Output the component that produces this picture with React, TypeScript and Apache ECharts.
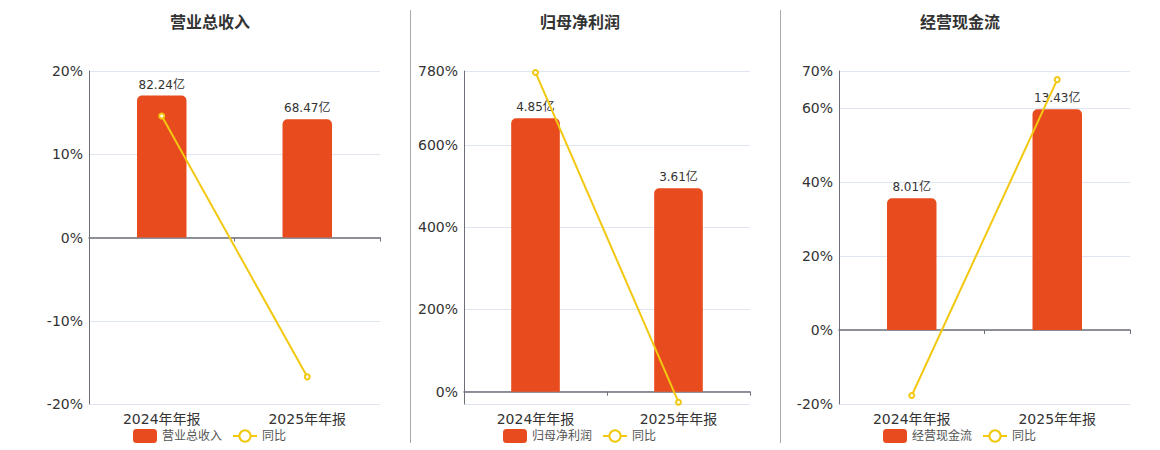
import React, { useEffect, useRef } from "react";
import * as echarts from "echarts";

const categories = ["2024年年报", "2025年年报"];
const seriesNames = ["营业总收入", "归母净利润", "经营现金流"];
const yoyName = "同比";
const unit = "亿";

const revenue = [82.24, 68.47];
const revenueYoy = [14.6, -16.74];
const netProfit = [4.85, 3.61];
const netProfitYoy = [776.5, -25.57];
const cashFlow = [8.01, 13.43];
const cashFlowYoy = [-17.7, 67.67];

const revenuePctTicks = [-20, -10, 0, 10, 20];
const netProfitPctTicks = [0, 200, 400, 600, 780];
const cashFlowPctTicks = [-20, 0, 20, 40, 60, 70];
const revenuePctRange = [-20, 20];
const netProfitPctRange = [-30, 780];
const cashFlowPctRange = [-20, 70];

const barValues = [revenue, netProfit, cashFlow];
const yoyValues = [revenueYoy, netProfitYoy, cashFlowYoy];
const pctTicks = [revenuePctTicks, netProfitPctTicks, cashFlowPctTicks];
const pctRanges = [revenuePctRange, netProfitPctRange, cashFlowPctRange];

// layout (not data)
const panelCenters = [210, 580, 960];
const gridLefts = [89, 464, 839];
const gridWidths = [291, 286, 291];
const legendLefts = [128, 498, 878];
const separators = [410.5, 780.5];
const BAR_HEADROOM = 1.173;

const BAR_COLOR = "#E84B1D";
const LINE_COLOR = "#F2C811";
const AXIS_COLOR = "#6E7079";
const FONT = "'DejaVu Sans', 'Noto Sans CJK SC', sans-serif";

function buildOption() {
  const grid: any[] = [];
  const xAxis: any[] = [];
  const yAxis: any[] = [];
  const series: any[] = [];
  const legend: any[] = [];
  const graphic: any[] = [];

  for (let i = 0; i < 3; i++) {
    const [pMin, pMax] = pctRanges[i];
    const barMax = Math.max(...barValues[i]) * BAR_HEADROOM;
    const barMin = (barMax * pMin) / pMax;
    const gridTicks = Array.from(new Set([pMin, ...pctTicks[i], pMax]));

    grid.push({ left: gridLefts[i], width: gridWidths[i], top: 71, height: 333, containLabel: false });

    xAxis.push({
      type: "category",
      gridIndex: i,
      data: categories,
      position: "bottom",
      axisLine: { show: true, onZero: true, onZeroAxisIndex: 2 * i, lineStyle: { color: AXIS_COLOR, width: 1.5 } },
      axisTick: { show: true, length: 4, lineStyle: { color: AXIS_COLOR } },
      axisLabel: { show: false },
      splitLine: { show: false },
    });
    xAxis.push({
      type: "category",
      gridIndex: i,
      data: categories,
      position: "bottom",
      axisLine: { show: false, onZero: false },
      axisTick: { show: false },
      axisLabel: { show: true, fontSize: 14, color: "#333", margin: 8, fontFamily: FONT },
      splitLine: { show: false },
    });

    yAxis.push({
      type: "value",
      gridIndex: i,
      position: "left",
      min: pMin,
      max: pMax,
      axisLine: { show: true, lineStyle: { color: AXIS_COLOR } },
      axisTick: { show: false, customValues: gridTicks },
      axisLabel: {
        customValues: pctTicks[i],
        formatter: "{value}%",
        fontSize: 14,
        color: "#333",
        margin: 6,
        fontFamily: FONT,
      },
      splitLine: { show: true, lineStyle: { color: "#E0E6F1" } },
    });
    yAxis.push({
      type: "value",
      gridIndex: i,
      show: false,
      min: barMin,
      max: barMax,
      splitLine: { show: false },
    });

    series.push({
      type: "bar",
      name: seriesNames[i],
      xAxisIndex: 2 * i,
      yAxisIndex: 2 * i + 1,
      data: barValues[i],
      barWidth: "34%",
      itemStyle: { color: BAR_COLOR, borderRadius: [5, 5, 0, 0] },
      label: {
        show: true,
        position: "top",
        formatter: (p: any) => `${p.value}${unit}`,
        fontSize: 12,
        color: "#333",
        fontFamily: FONT,
      },
      z: 2,
    });
    series.push({
      type: "line",
      name: yoyName,
      xAxisIndex: 2 * i,
      yAxisIndex: 2 * i,
      data: yoyValues[i],
      symbol: "emptyCircle",
      symbolSize: 5,
      itemStyle: { color: LINE_COLOR, borderWidth: 1.5 },
      lineStyle: { color: LINE_COLOR, width: 2 },
      z: 3,
    });

    legend.push({
      left: legendLefts[i],
      top: 424,
      itemWidth: 24,
      itemHeight: 14,
      itemGap: 10,
      selectedMode: false,
      data: [seriesNames[i], yoyName],
      textStyle: { fontSize: 12, color: "#555", fontFamily: FONT },
    });

    graphic.push({
      type: "text",
      x: panelCenters[i],
      y: 22,
      style: {
        text: seriesNames[i],
        textAlign: "center",
        textVerticalAlign: "middle",
        fontSize: 16,
        fontWeight: "bold",
        fontFamily: FONT,
        fill: "#333",
      },
    });
  }

  separators.forEach((x) => {
    graphic.push({
      type: "line",
      shape: { x1: x, y1: 10, x2: x, y2: 443 },
      style: { stroke: "#AAAAA4", lineWidth: 1 },
    });
  });

  return {
    animation: false,
    backgroundColor: "#fff",
    textStyle: { fontFamily: FONT },
    grid,
    xAxis,
    yAxis,
    series,
    legend,
    graphic,
  };
}

export default function App() {
  const ref = useRef<HTMLDivElement>(null);
  useEffect(() => {
    if (!ref.current) return;
    const chart = echarts.init(ref.current, undefined, { renderer: "svg" });
    chart.setOption(buildOption() as any);
    return () => chart.dispose();
  }, []);
  return (
    <div
      ref={ref}
      style={{ position: "absolute", left: 0, top: 0, width: 1160, height: 450 }}
    />
  );
}
